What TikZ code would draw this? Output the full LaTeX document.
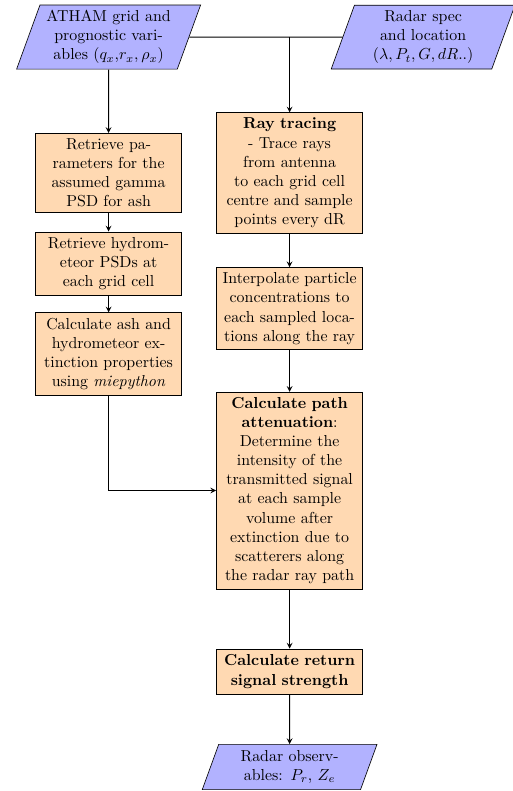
\documentclass[tikz,border=0pt]{standalone}
\usepackage{amsmath,amssymb}
\usetikzlibrary{shapes.geometric,arrows}

\begin{document}
\begin{tikzpicture}[io/.style={trapezium,trapezium left angle=70,trapezium right angle=110,minimum width=3cm,minimum height=1cm,text centered,text width=2.8cm,draw=black,fill=blue!30},
process/.style={rectangle,minimum width=3cm,minimum height=1cm,text centered,text width=3cm,draw=black,fill=orange!30},
arrow/.style={semithick,->,>=stealth}]
\useasboundingbox (-2.40,0.82) rectangle (8.915,-16.66);
\node[io] (atham) at (0,0) {ATHAM grid and prognostic variables $(q_x$,$r_x, \rho_x)$};
\node[io] (radar) at (6.95,0) {Radar spec\\ and location\\ $(\lambda, P_t, G, dR..)$};
\node[process] (params) at (0,-3) {Retrieve parameters for the assumed gamma PSD for ash};
\node[process] (hydro) at (0,-5) {Retrieve hydrometeor PSDs at each grid cell};
\node[process] (ash) at (0,-7) {Calculate ash and hydrometeor extinction properties using \textit{miepython}};
\node[process] (ray) at (4,-3) {\textbf{Ray tracing}\\ - Trace rays\\ from antenna\\ to each grid cell centre and sample points every dR};
\node[process] (interp) at (4,-6) {Interpolate particle concentrations to each sampled locations along the ray};
\node[process] (atten) at (4,-10.02) {\textbf{Calculate path attenuation}: Determine the intensity of the transmitted signal at each sample volume after extinction due to scatterers along the radar ray path};
\node[process] (ret) at (4,-14.02) {\textbf{Calculate return signal strength}};
\node[io] (obs) at (4,-16.13) {Radar observables: $P_r$, $Z_e$};
\coordinate (join) at (ray |- atham);
\draw[semithick] (atham) -- (radar);
\draw[arrow] (join) -- (ray);
\draw[arrow] (atham) -- (params);
\draw[arrow] (params) -- (hydro);
\draw[arrow] (hydro) -- (ash);
\draw[arrow] (ash) |- (atten);
\draw[arrow] (ray) -- (interp);
\draw[arrow] (interp) -- (atten);
\draw[arrow] (atten) -- (ret);
\draw[arrow] (ret) -- (obs);
\end{tikzpicture}
\end{document}
